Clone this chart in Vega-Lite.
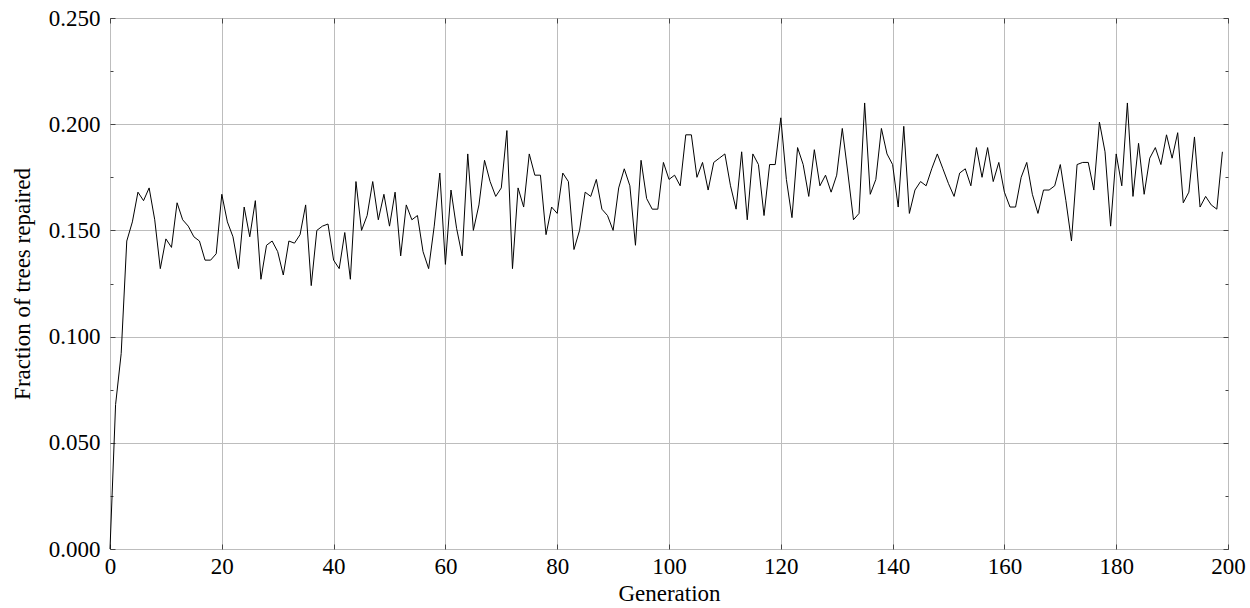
{
"$schema": "https://vega.github.io/schema/vega-lite/v6.json",
"width": 1118, "height": 531,
"autosize": {"type": "none"},
"padding": {"left": 110, "top": 18, "right": 22, "bottom": 59},
"background": "white",
"config": {"view": {"stroke": "black", "strokeWidth": 1}, "font": "Liberation Serif"},
"data": {"values": [
{"g":0,"v":0.000},{"g":1,"v":0.068},{"g":2,"v":0.092},{"g":3,"v":0.145},{"g":4,"v":0.154},{"g":5,"v":0.168},{"g":6,"v":0.164},{"g":7,"v":0.170},{"g":8,"v":0.155},{"g":9,"v":0.132},
{"g":10,"v":0.146},{"g":11,"v":0.142},{"g":12,"v":0.163},{"g":13,"v":0.155},{"g":14,"v":0.152},{"g":15,"v":0.147},{"g":16,"v":0.145},{"g":17,"v":0.136},{"g":18,"v":0.136},{"g":19,"v":0.139},
{"g":20,"v":0.167},{"g":21,"v":0.154},{"g":22,"v":0.147},{"g":23,"v":0.132},{"g":24,"v":0.161},{"g":25,"v":0.147},{"g":26,"v":0.164},{"g":27,"v":0.127},{"g":28,"v":0.143},{"g":29,"v":0.145},
{"g":30,"v":0.140},{"g":31,"v":0.129},{"g":32,"v":0.145},{"g":33,"v":0.144},{"g":34,"v":0.148},{"g":35,"v":0.162},{"g":36,"v":0.124},{"g":37,"v":0.150},{"g":38,"v":0.152},{"g":39,"v":0.153},
{"g":40,"v":0.136},{"g":41,"v":0.132},{"g":42,"v":0.149},{"g":43,"v":0.127},{"g":44,"v":0.173},{"g":45,"v":0.150},{"g":46,"v":0.157},{"g":47,"v":0.173},{"g":48,"v":0.155},{"g":49,"v":0.167},
{"g":50,"v":0.152},{"g":51,"v":0.168},{"g":52,"v":0.138},{"g":53,"v":0.162},{"g":54,"v":0.155},{"g":55,"v":0.157},{"g":56,"v":0.140},{"g":57,"v":0.132},{"g":58,"v":0.152},{"g":59,"v":0.177},
{"g":60,"v":0.134},{"g":61,"v":0.169},{"g":62,"v":0.151},{"g":63,"v":0.138},{"g":64,"v":0.186},{"g":65,"v":0.150},{"g":66,"v":0.162},{"g":67,"v":0.183},{"g":68,"v":0.173},{"g":69,"v":0.166},
{"g":70,"v":0.170},{"g":71,"v":0.197},{"g":72,"v":0.132},{"g":73,"v":0.170},{"g":74,"v":0.161},{"g":75,"v":0.186},{"g":76,"v":0.176},{"g":77,"v":0.176},{"g":78,"v":0.148},{"g":79,"v":0.161},
{"g":80,"v":0.158},{"g":81,"v":0.177},{"g":82,"v":0.173},{"g":83,"v":0.141},{"g":84,"v":0.150},{"g":85,"v":0.168},{"g":86,"v":0.166},{"g":87,"v":0.174},{"g":88,"v":0.160},{"g":89,"v":0.157},
{"g":90,"v":0.150},{"g":91,"v":0.170},{"g":92,"v":0.179},{"g":93,"v":0.171},{"g":94,"v":0.143},{"g":95,"v":0.183},{"g":96,"v":0.165},{"g":97,"v":0.160},{"g":98,"v":0.160},{"g":99,"v":0.182},
{"g":100,"v":0.174},{"g":101,"v":0.176},{"g":102,"v":0.171},{"g":103,"v":0.195},{"g":104,"v":0.195},{"g":105,"v":0.175},{"g":106,"v":0.182},{"g":107,"v":0.169},{"g":108,"v":0.182},{"g":109,"v":0.184},
{"g":110,"v":0.186},{"g":111,"v":0.171},{"g":112,"v":0.160},{"g":113,"v":0.187},{"g":114,"v":0.155},{"g":115,"v":0.186},{"g":116,"v":0.181},{"g":117,"v":0.157},{"g":118,"v":0.181},{"g":119,"v":0.181},
{"g":120,"v":0.203},{"g":121,"v":0.174},{"g":122,"v":0.156},{"g":123,"v":0.189},{"g":124,"v":0.181},{"g":125,"v":0.166},{"g":126,"v":0.188},{"g":127,"v":0.171},{"g":128,"v":0.176},{"g":129,"v":0.168},
{"g":130,"v":0.176},{"g":131,"v":0.198},{"g":132,"v":0.177},{"g":133,"v":0.155},{"g":134,"v":0.158},{"g":135,"v":0.210},{"g":136,"v":0.167},{"g":137,"v":0.174},{"g":138,"v":0.198},{"g":139,"v":0.186},
{"g":140,"v":0.181},{"g":141,"v":0.161},{"g":142,"v":0.199},{"g":143,"v":0.158},{"g":144,"v":0.169},{"g":145,"v":0.173},{"g":146,"v":0.171},{"g":147,"v":0.179},{"g":148,"v":0.186},{"g":149,"v":0.179},
{"g":150,"v":0.172},{"g":151,"v":0.166},{"g":152,"v":0.177},{"g":153,"v":0.179},{"g":154,"v":0.171},{"g":155,"v":0.189},{"g":156,"v":0.175},{"g":157,"v":0.189},{"g":158,"v":0.173},{"g":159,"v":0.182},
{"g":160,"v":0.168},{"g":161,"v":0.161},{"g":162,"v":0.161},{"g":163,"v":0.175},{"g":164,"v":0.182},{"g":165,"v":0.167},{"g":166,"v":0.158},{"g":167,"v":0.169},{"g":168,"v":0.169},{"g":169,"v":0.171},
{"g":170,"v":0.181},{"g":171,"v":0.164},{"g":172,"v":0.145},{"g":173,"v":0.181},{"g":174,"v":0.182},{"g":175,"v":0.182},{"g":176,"v":0.169},{"g":177,"v":0.201},{"g":178,"v":0.187},{"g":179,"v":0.152},
{"g":180,"v":0.186},{"g":181,"v":0.171},{"g":182,"v":0.210},{"g":183,"v":0.166},{"g":184,"v":0.191},{"g":185,"v":0.167},{"g":186,"v":0.184},{"g":187,"v":0.189},{"g":188,"v":0.181},{"g":189,"v":0.195},
{"g":190,"v":0.184},{"g":191,"v":0.196},{"g":192,"v":0.163},{"g":193,"v":0.168},{"g":194,"v":0.194},{"g":195,"v":0.161},{"g":196,"v":0.166},{"g":197,"v":0.162},{"g":198,"v":0.160},{"g":199,"v":0.187}
]},
"resolve": {"axis": {"x": "independent", "y": "independent"}},
"layer": [
{
"mark": {"type": "line", "color": "black", "strokeWidth": 1, "opacity": 0},
"encoding": {
"x": {"field": "g", "type": "quantitative", "scale": {"domain": [0, 200], "nice": false},
"axis": {"orient": "top", "values": [0,20,40,60,80,100,120,140,160,180,200], "labels": false, "grid": false, "domain": false, "title": null, "tickSize": -5, "tickColor": "#444"}},
"y": {"field": "v", "type": "quantitative", "scale": {"domain": [0, 0.25], "nice": false, "zero": true},
"axis": {"orient": "right", "values": [0,0.025,0.05,0.075,0.1,0.125,0.15,0.175,0.2,0.225,0.25], "labels": false, "grid": false, "domain": false, "title": null,
"tickColor": "#444", "tickSize": {"condition": {"test": "round(datum.value*40) % 2 == 0", "value": -5}, "value": -3}}}
}
},
{
"mark": {"type": "line", "color": "black", "strokeWidth": 1},
"encoding": {
"x": {"field": "g", "type": "quantitative", "scale": {"domain": [0, 200], "nice": false},
"axis": {"orient": "bottom", "values": [0,20,40,60,80,100,120,140,160,180,200], "format": "d", "grid": true, "gridColor": "#bdbdbd", "gridWidth": 1, "domain": false,
"tickSize": -5, "tickColor": "#444", "labelPadding": 11, "labelFontSize": 23, "labelColor": "black", "labelFont": "Liberation Serif", "labelFlush": false, "labelOverlap": false,
"title": "Generation", "titleFontSize": 23, "titleFontWeight": "normal", "titleColor": "black", "titleFont": "Liberation Serif", "titlePadding": 4}},
"y": {"field": "v", "type": "quantitative", "scale": {"domain": [0, 0.25], "nice": false, "zero": true},
"axis": {"orient": "left", "values": [0,0.025,0.05,0.075,0.1,0.125,0.15,0.175,0.2,0.225,0.25], "format": ".3f",
"labelExpr": "round(datum.value*40) % 2 == 0 ? datum.label : ''",
"grid": true, "gridColor": "#bdbdbd", "gridWidth": 1,
"gridOpacity": {"condition": {"test": "round(datum.value*40) % 2 == 0", "value": 1}, "value": 0},
"domain": false, "tickColor": "#444",
"tickSize": {"condition": {"test": "round(datum.value*40) % 2 == 0", "value": -5}, "value": -3},
"labelPadding": 15, "labelFontSize": 23, "labelColor": "black", "labelFont": "Liberation Serif", "labelFlush": false, "labelOverlap": false,
"title": "Fraction of trees repaired", "titleFontSize": 23, "titleFontWeight": "normal", "titleColor": "black", "titleFont": "Liberation Serif", "titlePadding": 14}}
}
}
]
}
